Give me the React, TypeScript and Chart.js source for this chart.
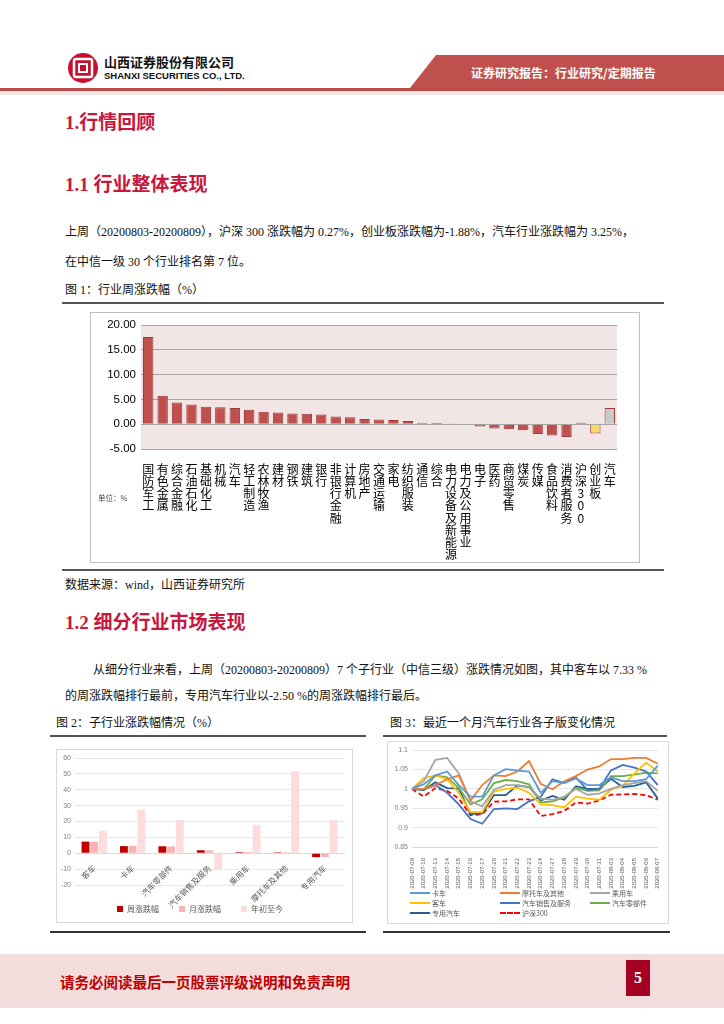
import React, { useEffect, useRef } from 'react';
import { Chart, registerables } from 'chart.js';
Chart.register(...registerables);

// ---------- Figure 1 data ----------
const INDUSTRIES = ['国防军工', '有色金属', '综合金融', '石油石化', '基础化工', '机械', '汽车', '轻工制造', '农林牧渔', '建材', '钢铁', '建筑', '银行', '非银行金融', '计算机', '房地产', '交通运输', '家电', '纺织服装', '通信', '综合', '电力设备及新能源', '电力及公用事业', '电子', '医药', '商贸零售', '煤炭', '传媒', '食品饮料', '消费者服务', '沪深300', '创业板', '汽车'];
const INDUSTRY_WEEKLY = [17.6, 5.75, 4.4, 3.95, 3.5, 3.4, 3.25, 2.9, 2.5, 2.35, 2.15, 2.1, 1.95, 1.55, 1.4, 1.05, 0.95, 0.85, 0.65, 0.25, 0.22, 0.12, -0.05, -0.45, -0.85, -1.0, -1.2, -2.0, -2.3, -2.6, 0.27, -1.88, 3.25];
const FIG1_Y_MIN = -5;
const FIG1_Y_MAX = 20;
const FIG1_Y_STEP = 5;

// ---------- Figure 2 data ----------
const SUB_INDUSTRIES = ['客车', '卡车', '汽车零部件', '汽车销售及服务', '乘用车', '摩托车及其他', '专用汽车'];
const SUB_WEEK = [7.33, 4.5, 4.4, 1.9, 0.7, 0.6, -2.5];
const SUB_MONTH = [7.2, 4.6, 4.3, 1.8, 0.8, 0.6, -2.4];
const SUB_YTD = [14.3, 27.5, 21, -10.5, 18, 51.5, 21];
const FIG2_SERIES = ['周涨跌幅', '月涨跌幅', '年初至今'];

// ---------- Figure 3 data ----------
const DATES = ['2020-07-09', '2020-07-10', '2020-07-13', '2020-07-14', '2020-07-15', '2020-07-16', '2020-07-17', '2020-07-20', '2020-07-21', '2020-07-22', '2020-07-23', '2020-07-24', '2020-07-27', '2020-07-28', '2020-07-29', '2020-07-30', '2020-07-31', '2020-08-03', '2020-08-04', '2020-08-05', '2020-08-06', '2020-08-07'];
const TRUCK = [1.0, 1.012, 1.035, 1.045, 1.01, 0.98, 0.98, 1.035, 1.051, 1.047, 1.045, 0.99, 1.02, 1.015, 1.027, 1.01, 1.01, 1.03, 1.02, 1.02, 1.025, 1.06];
const MOTO = [1.0, 1.0, 1.01, 1.025, 1.035, 0.97, 1.01, 1.035, 1.033, 1.045, 1.072, 1.013, 0.999, 1.02, 1.033, 1.05, 1.058, 1.077, 1.077, 1.08, 1.08, 1.065];
const PASSENGER = [1.0, 1.02, 1.075, 1.08, 1.04, 0.968, 0.955, 0.998, 1.01, 1.01, 1.005, 0.975, 0.972, 0.98, 1.0, 0.985, 0.988, 1.0, 1.01, 1.015, 1.02, 0.995];
const BUS = [1.0, 1.028, 1.035, 1.025, 0.99, 0.94, 0.94, 0.993, 1.0, 1.003, 0.99, 0.96, 0.958, 0.952, 0.98, 0.975, 0.972, 0.998, 1.008, 1.04, 1.068, 1.045];
const SALES = [1.0, 0.998, 1.01, 0.99, 0.96, 0.922, 0.91, 0.948, 0.95, 0.948, 0.968, 0.98, 1.025, 1.015, 1.03, 0.997, 1.0, 1.048, 1.062, 1.055, 1.045, 1.01];
const PARTS = [1.0, 0.998, 1.035, 1.03, 1.003, 0.96, 0.973, 1.015, 1.023, 1.02, 1.012, 0.965, 0.968, 0.978, 1.003, 0.995, 0.996, 1.033, 1.033, 1.037, 1.042, 1.04];
const SPECIAL = [1.0, 0.997, 1.017, 1.002, 1.001, 0.935, 0.937, 0.984, 0.984, 1.009, 1.005, 0.97, 0.982, 0.972, 1.007, 1.0, 1.0, 1.026, 1.005, 1.008, 1.017, 0.975];
const HS300 = [1.0, 0.98, 1.002, 0.995, 0.975, 0.932, 0.935, 0.967, 0.968, 0.973, 0.973, 0.93, 0.935, 0.943, 0.965, 0.962, 0.97, 0.985, 0.986, 0.987, 0.984, 0.972];
const FIG3_SERIES = ['卡车', '摩托车及其他', '乘用车', '客车', '汽车销售及服务', '汽车零部件', '专用汽车', '沪深300'];
const FIG3_COLORS = ['#5B9BD5', '#ED7D31', '#A5A5A5', '#FFC000', '#4472C4', '#70AD47', '#255E91', '#FF0000'];

const SERIF = '"Liberation Serif", "Noto Sans CJK SC", serif';
const CJK = '"Noto Sans CJK SC", sans-serif';
const RED_TITLE = '#C8163C';

const plotBg = {
  id: 'plotBg',
  beforeDraw(chart: any, _args: any, opts: any) {
    if (!opts || !opts.color) return;
    const { ctx, chartArea: a } = chart;
    ctx.save();
    ctx.fillStyle = opts.color;
    ctx.fillRect(a.left, a.top, a.right - a.left, a.bottom - a.top);
    ctx.restore();
  },
};

function ChartCanvas({ make, left, top, width, height }: any) {
  const ref = useRef<HTMLCanvasElement>(null);
  useEffect(() => {
    const chart = new Chart(ref.current as HTMLCanvasElement, make());
    return () => chart.destroy();
  }, []);
  return (
    <canvas
      ref={ref}
      width={width}
      height={height}
      style={{ position: 'absolute', left, top, width, height }}
    />
  );
}

function fig1Config(): any {
  const n = INDUSTRIES.length;
  const fills = INDUSTRIES.map((_, i) => (i === n - 2 ? '#FFD966' : i === n - 1 ? '#C9C9C9' : '#C0504D'));
  return {
    type: 'bar',
    data: {
      labels: INDUSTRIES.map((s) => (s === '沪深300' ? ['沪', '深', '3', '0', '0'] : Array.from(s))),
      datasets: [
        {
          data: INDUSTRY_WEEKLY,
          backgroundColor: fills,
          borderColor: '#9E3A37',
          borderWidth: 1,
          barPercentage: 0.72,
          categoryPercentage: 1,
        },
      ],
    },
    plugins: [plotBg],
    options: {
      animation: false,
      responsive: false,
      layout: { padding: { top: 13, right: 23, bottom: 0, left: 0 } },
      plugins: { legend: { display: false }, tooltip: { enabled: false }, plotBg: { color: '#F2E5E5' } },
      scales: {
        x: {
          grid: { display: false },
          border: { display: false },
          ticks: {
            maxRotation: 0,
            minRotation: 0,
            autoSkip: false,
            padding: 6,
            color: '#000',
            font: { family: CJK, size: 12, lineHeight: 1.02 },
          },
          afterFit: (s: any) => {
            s.height = 114;
          },
        },
        y: {
          min: FIG1_Y_MIN,
          max: FIG1_Y_MAX,
          ticks: {
            stepSize: FIG1_Y_STEP,
            color: '#000',
            padding: 5,
            font: { family: '"Liberation Sans", sans-serif', size: 11.5 },
            callback: (v: any) => Number(v).toFixed(2),
          },
          grid: { color: '#A6A6A6', drawTicks: false },
          border: { display: false },
          afterFit: (s: any) => {
            s.width = 51;
          },
        },
      },
    },
  };
}

function fig2Config(): any {
  const vals = [SUB_WEEK, SUB_MONTH, SUB_YTD];
  const colors = ['#C00000', '#F9B3B3', '#FDDCDC'];
  return {
    type: 'bar',
    data: {
      labels: SUB_INDUSTRIES,
      datasets: FIG2_SERIES.map((name, i) => ({
        label: name,
        data: vals[i],
        backgroundColor: colors[i],
        borderWidth: 0,
        barPercentage: 0.9,
        categoryPercentage: 0.68,
      })),
    },
    options: {
      animation: false,
      responsive: false,
      layout: { padding: { top: 9, right: 9, bottom: 0, left: 0 } },
      plugins: {
        tooltip: { enabled: false },
        legend: {
          position: 'bottom',
          labels: {
            boxWidth: 6,
            boxHeight: 6,
            padding: 20,
            color: '#595959',
            font: { family: CJK, size: 8 },
          },
        },
      },
      scales: {
        x: {
          position: { y: 0 },
          grid: { display: false },
          border: { color: '#D9D9D9' },
          ticks: {
            maxRotation: 45,
            minRotation: 45,
            autoSkip: false,
            padding: 2,
            color: '#595959',
            font: { family: CJK, size: 8 },
          },
        },
        y: {
          min: -20,
          max: 60,
          ticks: { stepSize: 10, color: '#808080', padding: 4, font: { family: '"Liberation Sans", sans-serif', size: 7 } },
          grid: { color: '#E8E8E8', drawTicks: false },
          border: { display: false },
          afterFit: (s: any) => {
            s.width = 19;
          },
        },
      },
    },
  };
}

function fig3Config(): any {
  const series = [TRUCK, MOTO, PASSENGER, BUS, SALES, PARTS, SPECIAL, HS300];
  return {
    type: 'line',
    data: {
      labels: DATES,
      datasets: FIG3_SERIES.map((name, i) => ({
        label: name,
        data: series[i],
        borderColor: FIG3_COLORS[i],
        backgroundColor: FIG3_COLORS[i],
        borderWidth: 1.8,
        borderDash: i === 7 ? [5, 3] : [],
        pointRadius: 0,
        tension: 0,
        fill: false,
      })),
    },
    options: {
      animation: false,
      responsive: false,
      layout: { padding: { top: 5, right: 8, bottom: 0, left: 0 } },
      plugins: { legend: { display: false }, tooltip: { enabled: false } },
      scales: {
        x: {
          offset: false,
          grid: { display: false },
          border: { color: '#D9D9D9' },
          ticks: {
            maxRotation: 90,
            minRotation: 90,
            autoSkip: false,
            padding: 3,
            color: '#595959',
            font: { family: '"Liberation Sans", sans-serif', size: 6 },
          },
          afterFit: (s: any) => {
            s.height = 45;
          },
        },
        y: {
          min: 0.85,
          max: 1.1,
          ticks: {
            stepSize: 0.05,
            color: '#808080',
            padding: 4,
            font: { family: '"Liberation Sans", sans-serif', size: 7 },
            callback: (v: any) => String(Number(Number(v).toFixed(2))),
          },
          grid: { color: '#E6E6E6', drawTicks: false },
          border: { display: false },
          afterFit: (s: any) => {
            s.width = 25;
          },
        },
      },
    },
  };
}

function Txt({ x, y, size, children, style }: any) {
  return (
    <div
      style={{
        position: 'absolute',
        left: x,
        top: y - size / 2,
        fontSize: size,
        lineHeight: `${size}px`,
        whiteSpace: 'nowrap',
        fontFamily: SERIF,
        color: '#111',
        ...style,
      }}
    >
      {children}
    </div>
  );
}

function HLine({ x1, x2, y, color = '#555', h = 1.5 }: any) {
  return <div style={{ position: 'absolute', left: x1, top: y, width: x2 - x1, height: h, background: color }} />;
}

function Fig3Legend() {
  const cols = [410, 500, 590];
  const rows = [893, 903, 913];
  return (
    <>
      {FIG3_SERIES.map((name, i) => {
        const x = cols[i % 3];
        const y = rows[Math.floor(i / 3)];
        const dashed = i === 7;
        return (
          <div key={name} style={{ position: 'absolute', left: x, top: y - 5, height: 10, display: 'flex', alignItems: 'center' }}>
            <div
              style={{
                width: 20,
                height: 0,
                borderTop: dashed ? `2px dashed ${FIG3_COLORS[i]}` : `2px solid ${FIG3_COLORS[i]}`,
                marginRight: 2,
              }}
            />
            <span style={{ fontFamily: CJK, fontSize: 7, color: '#595959', lineHeight: '10px' }}>{name}</span>
          </div>
        );
      })}
    </>
  );
}

export default function App() {
  return (
    <div style={{ position: 'absolute', left: 0, top: 0, width: 724, height: 1024, background: '#fff', overflow: 'hidden' }}>
      {/* Header */}
      <svg style={{ position: 'absolute', left: 0, top: 0 }} width={724} height={100}>
        <circle cx={83} cy={68} r={15} fill="#C8102E" />
        <rect x={74} y={59} width={18} height={18} rx={2} fill="none" stroke="#fff" strokeWidth={2.5} />
        <rect x={79} y={64} width={8} height={8} fill="none" stroke="#fff" strokeWidth={2} />
        <polygon points="436,55 724,55 724,88 410,88" fill="#C0504D" />
        <rect x={0} y={88} width={724} height={3} fill="#B84A47" />
        <rect x={0} y={91} width={724} height={4} fill="#F6E3E3" />
      </svg>
      <Txt x={104} y={61} size={13} style={{ fontFamily: CJK, fontWeight: 700, color: '#111', letterSpacing: 0 }}>山西证券股份有限公司</Txt>
      <Txt x={104} y={76} size={9.5} style={{ fontFamily: '"Liberation Sans", sans-serif', fontWeight: 700, color: '#111' }}>SHANXI SECURITIES CO., LTD.</Txt>
      <Txt x={471} y={73} size={12} style={{ fontFamily: CJK, fontWeight: 700, color: '#fff' }}>证券研究报告：行业研究/定期报告</Txt>

      {/* Section 1 */}
      <Txt x={65} y={122} size={19} style={{ fontWeight: 700, color: RED_TITLE }}>1.行情回顾</Txt>
      <Txt x={65} y={184} size={19} style={{ fontWeight: 700, color: RED_TITLE }}>1.1 行业整体表现</Txt>
      <Txt x={65} y={232} size={12}>上周（20200803-20200809），沪深 300 涨跌幅为 0.27%，创业板涨跌幅为-1.88%，汽车行业涨跌幅为 3.25%，</Txt>
      <Txt x={65} y={262} size={12}>在中信一级 30 个行业排名第 7 位。</Txt>
      <Txt x={65} y={290} size={12}>图 1：行业周涨跌幅（%）</Txt>
      <HLine x1={62} x2={664} y={302} />

      <div style={{ position: 'absolute', left: 90, top: 312, width: 548, height: 249, border: '1px solid #BFBFBF' }} />
      <ChartCanvas make={fig1Config} left={90} top={312} width={550} height={251} />
      <Txt x={98} y={498} size={7.5} style={{ fontFamily: CJK, color: '#444' }}>单位：%</Txt>
      <HLine x1={62} x2={664} y={569} />
      <Txt x={65} y={585} size={12}>数据来源：wind，山西证券研究所</Txt>

      {/* Section 1.2 */}
      <Txt x={65} y={622} size={19} style={{ fontWeight: 700, color: RED_TITLE }}>1.2 细分行业市场表现</Txt>
      <Txt x={93} y={670} size={12}>从细分行业来看，上周（20200803-20200809）7 个子行业（中信三级）涨跌情况如图，其中客车以 7.33 %</Txt>
      <Txt x={65} y={696} size={12}>的周涨跌幅排行最前，专用汽车行业以-2.50 %的周涨跌幅排行最后。</Txt>

      <Txt x={56} y={723} size={12}>图 2：子行业涨跌幅情况（%）</Txt>
      <Txt x={390} y={723} size={12}>图 3：最近一个月汽车行业各子版变化情况</Txt>
      <HLine x1={50} x2={366} y={735} />
      <HLine x1={383} x2={667} y={735} />

      <div style={{ position: 'absolute', left: 56, top: 749, width: 295, height: 172, border: '1px solid #D9D9D9' }} />
      <ChartCanvas make={fig2Config} left={56} top={749} width={297} height={174} />

      <div style={{ position: 'absolute', left: 387, top: 741, width: 280, height: 181, border: '1px solid #D9D9D9' }} />
      <ChartCanvas make={fig3Config} left={387} top={742} width={281} height={150} />
      <Fig3Legend />

      <HLine x1={50} x2={366} y={931} color="#333" h={2} />
      <HLine x1={383} x2={670} y={931} color="#333" h={2} />

      {/* Footer */}
      <div style={{ position: 'absolute', left: 0, top: 954, width: 724, height: 54, background: '#F2DCDC' }} />
      <Txt x={60} y={982} size={14.5} style={{ fontFamily: CJK, fontWeight: 700, color: '#C00000' }}>请务必阅读最后一页股票评级说明和免责声明</Txt>
      <div style={{ position: 'absolute', left: 626, top: 960, width: 24, height: 36, background: '#A50021', color: '#fff', fontFamily: SERIF, fontWeight: 700, fontSize: 16, lineHeight: '36px', textAlign: 'center' }}>5</div>
    </div>
  );
}
